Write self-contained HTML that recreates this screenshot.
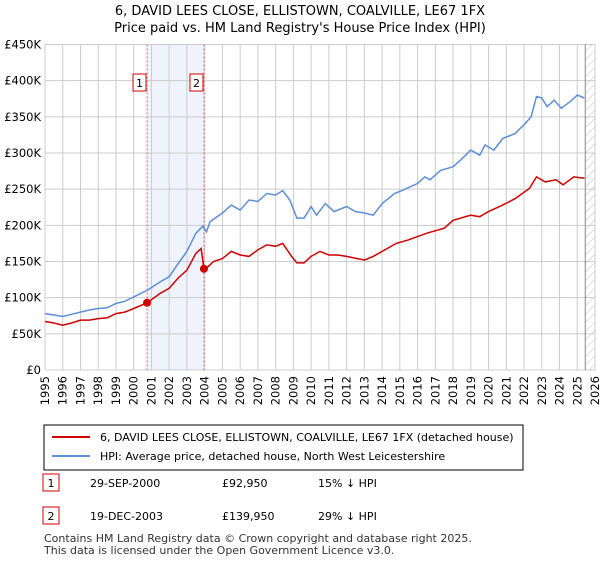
<!DOCTYPE html>
<html><head><meta charset="utf-8"><style>
body{margin:0;background:#fff;font-family:"Liberation Sans","DejaVu Sans",sans-serif;}
svg text{font-family:"DejaVu Sans","Liberation Sans",sans-serif;}
</style></head><body>
<svg id="c" width="600" height="560">
<defs><pattern id="h" width="6" height="6" patternUnits="userSpaceOnUse" patternTransform="rotate(45)"><line x1="0" y1="0" x2="0" y2="6" stroke="#bbb" stroke-width="1"/></pattern></defs>
<text x="300" y="15" text-anchor="middle" font-size="13">6, DAVID LEES CLOSE, ELLISTOWN, COALVILLE, LE67 1FX</text>
<text x="300" y="32" text-anchor="middle" font-size="13">Price paid vs. HM Land Registry's House Price Index (HPI)</text>
<g id="plot"></g>
<rect x="44" y="425" width="479" height="45" fill="#fff" stroke="#000"/>
<line x1="52" y1="437" x2="90" y2="437" stroke="#cc0000" stroke-width="2"/>
<text x="100" y="441" font-size="11">6, DAVID LEES CLOSE, ELLISTOWN, COALVILLE, LE67 1FX (detached house)</text>
<line x1="52" y1="456" x2="90" y2="456" stroke="#5b8ed6" stroke-width="2"/>
<text x="100" y="460" font-size="11">HPI: Average price, detached house, North West Leicestershire</text>
<g>
<rect x="43" y="474" width="16" height="17" fill="#fff" stroke="#cc0000"/><text x="51" y="487" font-size="11" text-anchor="middle">1</text>
<text x="90" y="487" font-size="11">29-SEP-2000</text><text x="222" y="487" font-size="11">£92,950</text><text x="318" y="487" font-size="11">15% ↓ HPI</text></g>
<g>
<rect x="43" y="507" width="16" height="17" fill="#fff" stroke="#cc0000"/><text x="51" y="520" font-size="11" text-anchor="middle">2</text>
<text x="90" y="520" font-size="11">19-DEC-2003</text><text x="222" y="520" font-size="11">£139,950</text><text x="318" y="520" font-size="11">29% ↓ HPI</text></g>
<text x="44" y="542" font-size="11" fill="#333">Contains HM Land Registry data © Crown copyright and database right 2025.</text>
<text x="44" y="554" font-size="11" fill="#333">This data is licensed under the Open Government Licence v3.0.</text>
</svg>
<script>
const yTicks=[0,50000,100000,150000,200000,250000,300000,350000,400000,450000];
const yTickLabels=["£0","£50K","£100K","£150K","£200K","£250K","£300K","£350K","£400K","£450K"];
const xYears=[1995,1996,1997,1998,1999,2000,2001,2002,2003,2004,2005,2006,2007,2008,2009,2010,2011,2012,2013,2014,2015,2016,2017,2018,2019,2020,2021,2022,2023,2024,2025,2026];
const hpiT=[1995,1995.5,1996,1996.5,1997,1997.5,1998,1998.5,1999,1999.5,2000,2000.75,2001.5,2002,2002.5,2003,2003.5,2003.9,2004.1,2004.3,2005,2005.5,2006,2006.5,2007,2007.5,2008,2008.4,2008.8,2009.2,2009.6,2010,2010.3,2010.8,2011.3,2012,2012.5,2013,2013.5,2014,2014.7,2015.2,2016,2016.4,2016.7,2017.3,2018,2018.5,2019,2019.5,2019.8,2020.3,2020.8,2021.5,2022,2022.4,2022.7,2023,2023.3,2023.7,2024.1,2024.6,2025,2025.4];
const hpiV=[78000,76000,74000,77000,80000,83000,85000,86000,92000,95000,101000,110000,122000,129000,147000,164000,189000,199000,191000,205000,217000,228000,221000,235000,233000,244000,242000,248000,235000,210000,210000,226000,214000,230000,219000,226000,219000,217000,214000,230000,244000,249000,258000,267000,263000,276000,281000,292000,304000,297000,311000,304000,320000,327000,339000,350000,378000,376000,364000,373000,362000,371000,380000,376000];
const ppT=[1995,1995.5,1996,1996.5,1997,1997.5,1998,1998.5,1999,1999.5,2000,2000.75,2001.5,2002,2002.5,2003,2003.5,2003.8,2003.96,2004.2,2004.5,2005,2005.5,2006,2006.5,2007,2007.5,2008,2008.4,2008.9,2009.2,2009.6,2010,2010.5,2011,2011.5,2012,2013,2013.5,2014,2014.8,2015.5,2016.5,2017.5,2018,2019,2019.5,2020,2020.8,2021.5,2022.3,2022.7,2023.2,2023.8,2024.2,2024.8,2025.4];
const ppV=[67000,65000,62000,65000,69000,69000,71000,72000,78000,80000,85000,92950,106000,113000,127000,138000,161000,168000,139950,143000,150000,154000,164000,159000,157000,166000,173000,171000,175000,157000,148000,148000,157000,164000,159000,159000,157000,152000,157000,164000,175000,180000,189000,196000,207000,214000,212000,219000,228000,237000,251000,267000,260000,263000,256000,267000,265000];
const saleT=[2000.75,2003.96];
const saleV=[92950,139950];
const saleLabels=["1","2"];
const X0=45,X1=595,Y0=370,Y1=44.5;
const xs=t=>X0+(t-1995)/(2026-1995)*(X1-X0);
const ys=v=>Y0-v/450000*(Y0-Y1);
const NS="http://www.w3.org/2000/svg";
const g=document.getElementById('plot');
function mk(tag,a,p){const e=document.createElementNS(NS,tag);for(const k in a)e.setAttribute(k,a[k]);(p||g).appendChild(e);return e;}
let e;
e=mk('rect',{x:xs(saleT[0]),y:Y1,width:xs(saleT[1])-xs(saleT[0]),height:Y0-Y1,fill:'#eef3fc'});


e=mk('rect',{x:xs(2025.45),y:Y1,width:X1-xs(2025.45),height:Y0-Y1,fill:'url(#h)'});


yTicks.forEach((v,i)=>{
 e=mk('line',{x1:X0,x2:X1,y1:ys(v),y2:ys(v),stroke:'#ccc'});
 
 
 e=mk('text',{x:X0-4,y:ys(v)+4,'text-anchor':'end','font-size':'11.5'});e.textContent=yTickLabels[i];
 
 
});
xYears.forEach(yr=>{
 e=mk('line',{x1:xs(yr),x2:xs(yr),y1:Y1,y2:Y0,stroke:'#ccc'});
 
 
 const tx=xs(yr)+4,ty=Y0+6;
 e=mk('text',{x:tx,y:ty,'text-anchor':'end','font-size':'11.5',transform:`rotate(-90 ${tx} ${ty})`});e.textContent=yr;
 
 
});
e=mk('line',{x1:xs(2025.45),x2:xs(2025.45),y1:Y1,y2:Y0,stroke:'#888'});


saleT.forEach((t,i)=>{
 e=mk('line',{x1:xs(t),x2:xs(t),y1:Y1,y2:Y0,stroke:'#e06060','stroke-dasharray':'2,2'});
 
 
});
function path(T,V,col,name){
 e=mk('path',{d:T.map((t,i)=>(i?'L':'M')+xs(t).toFixed(1)+','+ys(V[i]).toFixed(1)).join(''),fill:'none',stroke:col,'stroke-width':1.5});
 
 
}
path(hpiT,hpiV,'#5b8ed6','hpi-line');
path(ppT,ppV,'#cc0000','price-paid-line');
saleT.forEach((t,i)=>{
 e=mk('circle',{cx:xs(t),cy:ys(saleV[i]),r:4,fill:'#cc0000'});
 
 
 const bx=xs(t)-14;
 e=mk('rect',{x:bx,y:74,width:13,height:17,fill:'#fff',stroke:'#cc0000'});
 
 
 e=mk('text',{x:bx+6.5,y:87,'text-anchor':'middle','font-size':'11'});e.textContent=saleLabels[i];
 
 
});
</script>
</body></html>
